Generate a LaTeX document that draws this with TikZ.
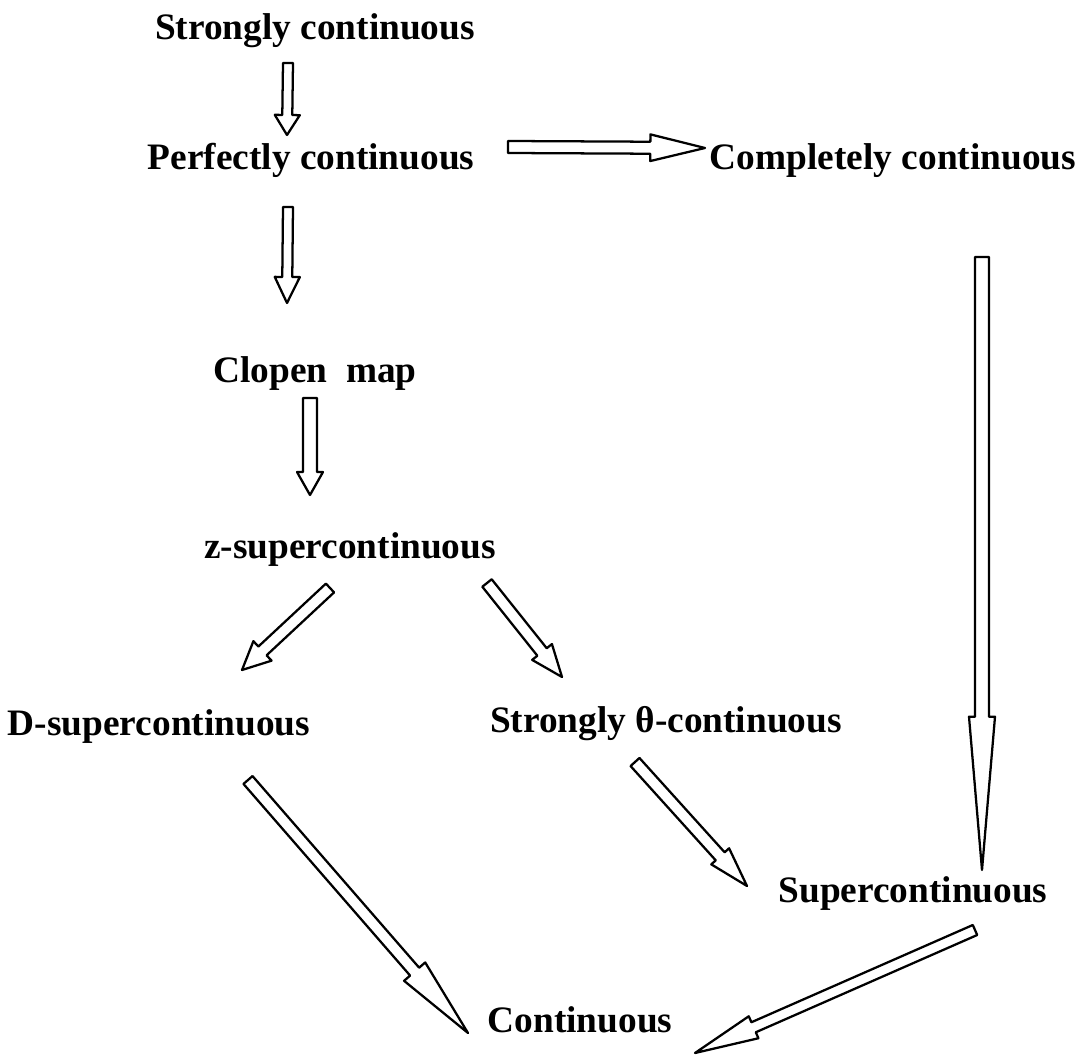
\documentclass[tikz,border=0pt]{standalone}
\usepackage{fontspec}
\setmainfont{Liberation Serif}
\usetikzlibrary{calc}
\tikzset{every picture/.style={font issue=\fontsize{28}{32}\bfseries},
         font issue/.style={execute at begin picture={#1\selectfont}},
         maptext/.style={inner sep=0pt, anchor=base},
         hollow/.style={draw, line width=1.7pt, line join=round, fill=white}
        }
% tail, tip, half shaft, half head, head length
\newcommand{\hollowarrow}[5]{%
  \coordinate (hb) at ($(#2)!#5!(#1)$);
  \draw [hollow] ($(#1)!#3!90:(#2)$) -- ($(hb)!#3!-90:(#1)$) -- ($(hb)!#4!-90:(#1)$) -- (#2)
    -- ($(hb)!#4!90:(#1)$) -- ($(hb)!#3!90:(#1)$) -- ($(#1)!#3!-90:(#2)$) -- cycle;
}

\begin{document}
\begin{tikzpicture}[x=0.75pt, y=-0.75pt]
        \useasboundingbox (0,0) rectangle (1082,1055);
        \node [maptext] (st) at (315,40) {Strongly continuous};
        \node [maptext] (pc) at (311,170) {Perfectly continuous};
        \node [maptext] (cc) at (893,170) {Completely continuous};
        \node [maptext] (cl) at (315,383) {Clopen\ \ map};
        \node [maptext] (zs) at (350,558) {z-supercontinuous};
        \node [maptext] (ds) at (159,735) {D-supercontinuous};
        \node [maptext] (sth) at (666,732) {Strongly θ-continuous};
        \node [maptext] (sup) at (913,902) {Supercontinuous};
        \node [maptext] (con) at (580,1032) {Continuous};

        \coordinate (st-t) at (288,63);  \coordinate (st-h) at (287,135);
        \coordinate (pc-t) at (288,207); \coordinate (pc-h) at (287,303);
        \coordinate (pr-t) at (508,147); \coordinate (pr-h) at (705,148);
        \coordinate (cl-t) at (310,398); \coordinate (cl-h) at (310,495);
        \coordinate (cc-t) at (982,257); \coordinate (cc-h) at (982,870);
        \coordinate (zl-t) at (330,588); \coordinate (zl-h) at (242,670);
        \coordinate (zr-t) at (487,583); \coordinate (zr-h) at (562,677);
        \coordinate (ds-t) at (248,780); \coordinate (ds-h) at (468,1033);
        \coordinate (sth-t) at (635,762); \coordinate (sth-h) at (747,886);
        \coordinate (sup-t) at (975,930); \coordinate (sup-h) at (695,1053);

        \hollowarrow{st-t}{st-h}{3.75pt}{9.4pt}{15pt}
        \hollowarrow{pc-t}{pc-h}{3.75pt}{9.4pt}{19.5pt}
        \hollowarrow{pr-t}{pr-h}{4.5pt}{10pt}{41pt}
        \hollowarrow{cl-t}{cl-h}{5.25pt}{9.75pt}{17.25pt}
        \hollowarrow{cc-t}{cc-h}{5.25pt}{9.75pt}{115pt}
        \hollowarrow{zl-t}{zl-h}{4.5pt}{10pt}{21pt}
        \hollowarrow{zr-t}{zr-h}{4.5pt}{9.5pt}{24pt}
        \hollowarrow{ds-t}{ds-h}{4.5pt}{10.5pt}{61pt}
        \hollowarrow{sth-t}{sth-h}{4.5pt}{9pt}{30pt}
        \hollowarrow{sup-t}{sup-h}{4.1pt}{9pt}{48pt}
      \end{tikzpicture}
\end{document}
